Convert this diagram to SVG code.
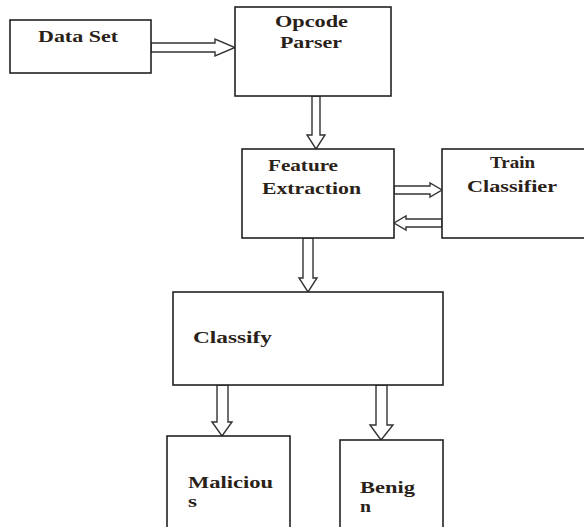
<svg xmlns="http://www.w3.org/2000/svg" width="584" height="527" viewBox="0 0 584 527">
<style>
.box{fill:#fff;stroke:#222;stroke-width:1.6}
.arr{fill:#fff;stroke:#333;stroke-width:1.4;stroke-linejoin:miter}
.t{font-family:"Liberation Serif","Times New Roman",serif;font-size:16px;font-weight:bold;fill:#2a2218}
</style>
<rect width="584" height="527" fill="#fff"/>
<g id="connectors">
<polygon class="arr" points="151,43 215,43 215,39 235,47.5 215,56 215,52 151,52"/>
<polygon class="arr" points="312,96 320,96 320,135 325,135 316,149 307,135 312,135"/>
<polygon class="arr" points="394,186 430,186 430,183 442,190 430,197 430,194 394,194"/>
<polygon class="arr" points="442,219 406,219 406,216 394,223 406,230 406,227 442,227"/>
<polygon class="arr" points="303,238 313,238 313,278 317,278 308,292 299,278 303,278"/>
<polygon class="arr" points="217,385 228,385 228,422 232,422 222,436 212,422 217,422"/>
<polygon class="arr" points="376,385 387,385 387,425 393,425 381,440 370,425 376,425"/>
</g>
<g id="dataset">
<rect class="box" x="10" y="20" width="141" height="53"/>
<text class="t" x="38" y="42" textLength="80" lengthAdjust="spacingAndGlyphs">Data Set</text>
</g>
<g id="opcode">
<rect class="box" x="235" y="7" width="156" height="89"/>
<text class="t" x="275" y="27" textLength="73" lengthAdjust="spacingAndGlyphs">Opcode</text>
<text class="t" x="280" y="48" textLength="62" lengthAdjust="spacingAndGlyphs">Parser</text>
</g>
<g id="feature">
<rect class="box" x="242" y="149" width="152" height="89"/>
<text class="t" x="268" y="171" textLength="70" lengthAdjust="spacingAndGlyphs">Feature</text>
<text class="t" x="262" y="194" textLength="99" lengthAdjust="spacingAndGlyphs">Extraction</text>
</g>
<g id="train">
<rect class="box" x="442" y="149" width="150" height="89"/>
<text class="t" x="490" y="168" textLength="45" lengthAdjust="spacingAndGlyphs">Train</text>
<text class="t" x="467" y="192" textLength="90" lengthAdjust="spacingAndGlyphs">Classifier</text>
</g>
<g id="classify">
<rect class="box" x="173" y="292" width="270" height="93"/>
<text class="t" x="193" y="343" textLength="79" lengthAdjust="spacingAndGlyphs">Classify</text>
</g>
<g id="malicious">
<rect class="box" x="167" y="436" width="123" height="100"/>
<text class="t" x="188" y="488" textLength="85" lengthAdjust="spacingAndGlyphs">Maliciou</text>
<text class="t" x="188" y="507" textLength="9" lengthAdjust="spacingAndGlyphs">s</text>
</g>
<g id="benign">
<rect class="box" x="340" y="440" width="103" height="100"/>
<text class="t" x="360" y="493" textLength="55" lengthAdjust="spacingAndGlyphs">Benig</text>
<text class="t" x="360" y="512" textLength="11" lengthAdjust="spacingAndGlyphs">n</text>
</g>
</svg>
